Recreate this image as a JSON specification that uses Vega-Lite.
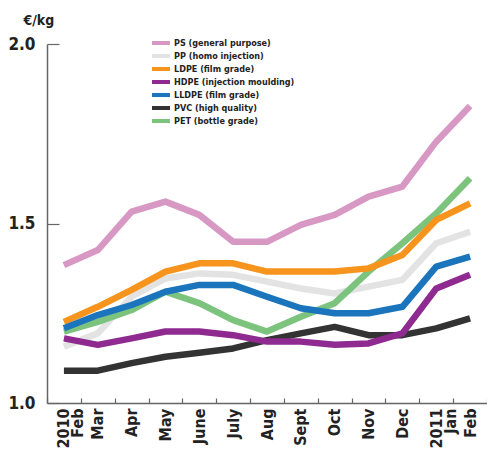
{
  "$schema": "https://vega.github.io/schema/vega-lite/v6.json",
  "width": 440,
  "height": 359,
  "autosize": "none",
  "padding": {"left": 47, "top": 44, "right": 0, "bottom": 47},
  "background": "white",
  "config": {
    "view": {"stroke": null},
    "font": "DejaVu Sans Condensed"
  },
  "data": {
    "values": [
      {"m": "2010|Feb", "p": "PS (general purpose)", "v": 1.384},
      {"m": "Mar", "p": "PS (general purpose)", "v": 1.426},
      {"m": "Apr", "p": "PS (general purpose)", "v": 1.533},
      {"m": "May", "p": "PS (general purpose)", "v": 1.561},
      {"m": "June", "p": "PS (general purpose)", "v": 1.524},
      {"m": "July", "p": "PS (general purpose)", "v": 1.449},
      {"m": "Aug", "p": "PS (general purpose)", "v": 1.449},
      {"m": "Sept", "p": "PS (general purpose)", "v": 1.496},
      {"m": "Oct", "p": "PS (general purpose)", "v": 1.524},
      {"m": "Nov", "p": "PS (general purpose)", "v": 1.575},
      {"m": "Dec", "p": "PS (general purpose)", "v": 1.603},
      {"m": "2011|Jan", "p": "PS (general purpose)", "v": 1.728},
      {"m": "Feb ", "p": "PS (general purpose)", "v": 1.827},

      {"m": "2010|Feb", "p": "PP (homo injection)", "v": 1.157},
      {"m": "Mar", "p": "PP (homo injection)", "v": 1.194},
      {"m": "Apr", "p": "PP (homo injection)", "v": 1.296},
      {"m": "May", "p": "PP (homo injection)", "v": 1.347},
      {"m": "June", "p": "PP (homo injection)", "v": 1.361},
      {"m": "July", "p": "PP (homo injection)", "v": 1.357},
      {"m": "Aug", "p": "PP (homo injection)", "v": 1.338},
      {"m": "Sept", "p": "PP (homo injection)", "v": 1.319},
      {"m": "Oct", "p": "PP (homo injection)", "v": 1.305},
      {"m": "Nov", "p": "PP (homo injection)", "v": 1.324},
      {"m": "Dec", "p": "PP (homo injection)", "v": 1.343},
      {"m": "2011|Jan", "p": "PP (homo injection)", "v": 1.445},
      {"m": "Feb ", "p": "PP (homo injection)", "v": 1.477},

      {"m": "2010|Feb", "p": "PET (bottle grade)", "v": 1.199},
      {"m": "Mar", "p": "PET (bottle grade)", "v": 1.226},
      {"m": "Apr", "p": "PET (bottle grade)", "v": 1.259},
      {"m": "May", "p": "PET (bottle grade)", "v": 1.31},
      {"m": "June", "p": "PET (bottle grade)", "v": 1.278},
      {"m": "July", "p": "PET (bottle grade)", "v": 1.231},
      {"m": "Aug", "p": "PET (bottle grade)", "v": 1.199},
      {"m": "Sept", "p": "PET (bottle grade)", "v": 1.24},
      {"m": "Oct", "p": "PET (bottle grade)", "v": 1.278},
      {"m": "Nov", "p": "PET (bottle grade)", "v": 1.366},
      {"m": "Dec", "p": "PET (bottle grade)", "v": 1.445},
      {"m": "2011|Jan", "p": "PET (bottle grade)", "v": 1.528},
      {"m": "Feb ", "p": "PET (bottle grade)", "v": 1.626},

      {"m": "2010|Feb", "p": "LDPE (film grade)", "v": 1.226},
      {"m": "Mar", "p": "LDPE (film grade)", "v": 1.268},
      {"m": "Apr", "p": "LDPE (film grade)", "v": 1.315},
      {"m": "May", "p": "LDPE (film grade)", "v": 1.366},
      {"m": "June", "p": "LDPE (film grade)", "v": 1.389},
      {"m": "July", "p": "LDPE (film grade)", "v": 1.389},
      {"m": "Aug", "p": "LDPE (film grade)", "v": 1.366},
      {"m": "Sept", "p": "LDPE (film grade)", "v": 1.366},
      {"m": "Oct", "p": "LDPE (film grade)", "v": 1.366},
      {"m": "Nov", "p": "LDPE (film grade)", "v": 1.375},
      {"m": "Dec", "p": "LDPE (film grade)", "v": 1.412},
      {"m": "2011|Jan", "p": "LDPE (film grade)", "v": 1.51},
      {"m": "Feb ", "p": "LDPE (film grade)", "v": 1.556},

      {"m": "2010|Feb", "p": "LLDPE (film grade)", "v": 1.208},
      {"m": "Mar", "p": "LLDPE (film grade)", "v": 1.245},
      {"m": "Apr", "p": "LLDPE (film grade)", "v": 1.273},
      {"m": "May", "p": "LLDPE (film grade)", "v": 1.31},
      {"m": "June", "p": "LLDPE (film grade)", "v": 1.329},
      {"m": "July", "p": "LLDPE (film grade)", "v": 1.329},
      {"m": "Aug", "p": "LLDPE (film grade)", "v": 1.296},
      {"m": "Sept", "p": "LLDPE (film grade)", "v": 1.264},
      {"m": "Oct", "p": "LLDPE (film grade)", "v": 1.25},
      {"m": "Nov", "p": "LLDPE (film grade)", "v": 1.25},
      {"m": "Dec", "p": "LLDPE (film grade)", "v": 1.268},
      {"m": "2011|Jan", "p": "LLDPE (film grade)", "v": 1.38},
      {"m": "Feb ", "p": "LLDPE (film grade)", "v": 1.408},

      {"m": "2010|Feb", "p": "PVC (high quality)", "v": 1.09},
      {"m": "Mar", "p": "PVC (high quality)", "v": 1.09},
      {"m": "Apr", "p": "PVC (high quality)", "v": 1.111},
      {"m": "May", "p": "PVC (high quality)", "v": 1.129},
      {"m": "June", "p": "PVC (high quality)", "v": 1.14},
      {"m": "July", "p": "PVC (high quality)", "v": 1.152},
      {"m": "Aug", "p": "PVC (high quality)", "v": 1.175},
      {"m": "Sept", "p": "PVC (high quality)", "v": 1.194},
      {"m": "Oct", "p": "PVC (high quality)", "v": 1.212},
      {"m": "Nov", "p": "PVC (high quality)", "v": 1.189},
      {"m": "Dec", "p": "PVC (high quality)", "v": 1.189},
      {"m": "2011|Jan", "p": "PVC (high quality)", "v": 1.208},
      {"m": "Feb ", "p": "PVC (high quality)", "v": 1.236},

      {"m": "2010|Feb", "p": "HDPE (injection moulding)", "v": 1.18},
      {"m": "Mar", "p": "HDPE (injection moulding)", "v": 1.162},
      {"m": "Apr", "p": "HDPE (injection moulding)", "v": 1.18},
      {"m": "May", "p": "HDPE (injection moulding)", "v": 1.199},
      {"m": "June", "p": "HDPE (injection moulding)", "v": 1.199},
      {"m": "July", "p": "HDPE (injection moulding)", "v": 1.189},
      {"m": "Aug", "p": "HDPE (injection moulding)", "v": 1.171},
      {"m": "Sept", "p": "HDPE (injection moulding)", "v": 1.171},
      {"m": "Oct", "p": "HDPE (injection moulding)", "v": 1.162},
      {"m": "Nov", "p": "HDPE (injection moulding)", "v": 1.166},
      {"m": "Dec", "p": "HDPE (injection moulding)", "v": 1.194},
      {"m": "2011|Jan", "p": "HDPE (injection moulding)", "v": 1.319},
      {"m": "Feb ", "p": "HDPE (injection moulding)", "v": 1.357}
    ]
  },
  "mark": {"type": "line", "strokeWidth": 6.5, "strokeJoin": "round", "strokeCap": "butt"},
  "encoding": {
    "x": {
      "field": "m",
      "type": "ordinal",
      "bandPosition": 0.5,
      "scale": {
        "type": "band",
        "paddingInner": 0,
        "paddingOuter": 0,
        "domain": ["2010|Feb", "Mar", "Apr", "May", "June", "July", "Aug", "Sept", "Oct", "Nov", "Dec", "2011|Jan", "Feb "]
      },
      "axis": {
        "title": null,
        "labelAngle": -90,
        "labelAlign": "right",
        "labelBaseline": "middle",
        "labelExpr": "isString(datum.value) ? split(trim(datum.value), '|') : ''",
        "labelFont": "DejaVu Sans Condensed",
        "labelFontWeight": "bold",
        "labelFontSize": 16,
        "labelLineHeight": 14,
        "labelColor": "#222",
        "labelPadding": 10,
        "tickBand": "extent",
        "tickSize": -5,
        "tickColor": "#666",
        "tickWidth": 1.2,
        "domainColor": "#666",
        "domainWidth": 1.5
      }
    },
    "y": {
      "field": "v",
      "type": "quantitative",
      "scale": {"domain": [1, 2], "zero": false, "nice": false},
      "axis": {
        "title": "€/kg",
        "titleAngle": 0,
        "titleAlign": "left",
        "titleBaseline": "alphabetic",
        "titleX": -24,
        "titleY": -20,
        "titleFont": "DejaVu Sans Condensed",
        "titleFontSize": 14,
        "titleFontWeight": "bold",
        "titleColor": "#222",
        "values": [1, 1.5, 2],
        "format": ".1f",
        "grid": false,
        "labelFont": "DejaVu Sans Condensed",
        "labelFontSize": 17,
        "labelFontWeight": "bold",
        "labelColor": "#222",
        "labelPadding": 24,
        "tickSize": -12,
        "tickColor": "#666",
        "tickWidth": 1.2,
        "domainColor": "#666",
        "domainWidth": 1.5
      }
    },
    "color": {
      "field": "p",
      "type": "nominal",
      "scale": {
        "domain": ["PS (general purpose)", "PP (homo injection)", "LDPE (film grade)", "HDPE (injection moulding)", "LLDPE (film grade)", "PVC (high quality)", "PET (bottle grade)"],
        "range": ["#d898c4", "#e3e3e3", "#f7941d", "#8e2a90", "#1b75bc", "#333333", "#7cc47e"]
      },
      "legend": {
        "title": null,
        "orient": "none",
        "legendX": 103,
        "legendY": -7.4,
        "symbolType": "M-1,0H5",
        "symbolSize": 36,
        "symbolStrokeWidth": 4,
        "labelFont": "DejaVu Sans Condensed",
        "labelFontSize": 9,
        "labelFontWeight": "bold",
        "labelColor": "#222",
        "labelOffset": 14,
        "clipHeight": 12.8,
        "rowPadding": 0,
        "padding": 0
      }
    }
  }
}
